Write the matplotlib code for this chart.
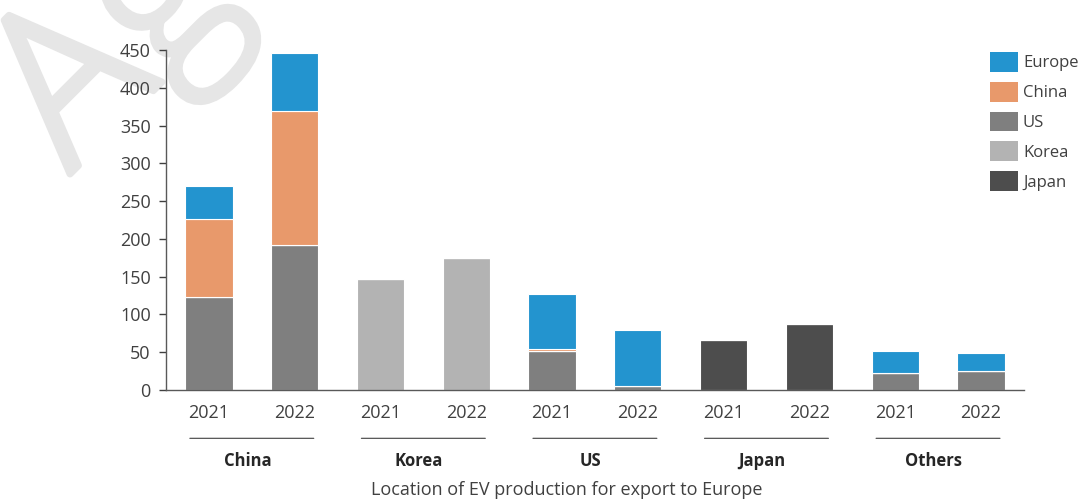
import matplotlib.pyplot as plt
import matplotlib.patheffects as pe
from matplotlib.patches import Patch
import numpy as np

plt.rcParams['font.family'] = ['Open Sans', 'DejaVu Sans']

groups = ['China', 'Korea', 'US', 'Japan', 'Others']
years = ['2021', '2022']

# stacked values per bar (China 2021, China 2022, Korea 2021, ...)
us = [123, 192, 0, 0, 51, 5, 0, 0, 22, 25]
korea = [0, 0, 147, 175, 0, 0, 0, 0, 0, 0]
japan = [0, 0, 0, 0, 0, 0, 66, 87, 0, 0]
china = [103, 177, 0, 0, 3, 0, 0, 0, 0, 0]
europe = [44, 77, 0, 0, 73, 74, 0, 0, 30, 24]

series = [('US', us, '#7f7f7f'),
          ('Korea', korea, '#b3b3b3'),
          ('Japan', japan, '#4d4d4d'),
          ('China', china, '#e8996b'),
          ('Europe', europe, '#2394cf')]

fig = plt.figure(figsize=(10.88, 4.99), dpi=100)
ax = fig.add_axes([0.1526, 0.2184, 0.7884, 0.6814])

# watermark
wm = '#e6e6e6'
fig.text(70 / 1088, 1 - 174 / 499, 'Ag', fontsize=156, color=wm,
         fontweight='light', rotation=45, rotation_mode='anchor',
         ha='left', va='baseline', zorder=-1,
         path_effects=[pe.withStroke(linewidth=5, foreground=wm)])

x = np.arange(len(us))
bottom = np.zeros(len(us))
for name, vals, col in series:
    vals = np.array(vals, dtype=float)
    ax.bar(x, vals, 0.55, bottom=bottom, color=col, edgecolor='white',
           linewidth=0.8, zorder=2)
    bottom += vals

ax.set_xlim(-0.5, 9.5)
ax.set_ylim(0, 450)
ax.set_yticks(range(0, 451, 50))
ax.set_xticks(x)
ax.set_xticklabels(years * len(groups))
ax.tick_params(axis='x', length=0, pad=10, labelsize=13, colors='#404040')
ax.tick_params(axis='y', length=5, width=1, direction='out', pad=6,
               labelsize=13, colors='#404040')
for s in ['top', 'right']:
    ax.spines[s].set_visible(False)
for s in ['left', 'bottom']:
    ax.spines[s].set_color('#595959')
    ax.spines[s].set_linewidth(1)
ax.patch.set_alpha(0)

# group underlines and labels
for i, g in enumerate(groups):
    c = 2 * i + 0.5
    ax.annotate('', xy=(c - 0.755, -0.142), xytext=(c + 0.755, -0.142),
                xycoords=('data', 'axes fraction'),
                arrowprops=dict(arrowstyle='-', color='#404040', lw=0.8))
    ax.text(c - 0.05, -0.209, g, transform=ax.get_xaxis_transform(), ha='center',
            va='center', fontsize=12, fontweight='bold', color='#262626')

fig.text(567 / 1088, 1 - 490 / 499, 'Location of EV production for export to Europe',
         ha='center', va='center', fontsize=13, color='#404040')

handles = [Patch(facecolor=col, label=name) for name, _, col in series]
order = ['Europe', 'China', 'US', 'Korea', 'Japan']
handles = sorted(handles, key=lambda h: order.index(h.get_label()))
fig.legend(handles=handles, loc='upper left', bbox_to_anchor=(990 / 1088, 1 - 52 / 499),
           frameon=False, fontsize=12, handlelength=1.68, handleheight=1.45,
           handletextpad=0.3, labelspacing=0.6, borderpad=0, borderaxespad=0,
           labelcolor='#404040')

fig.savefig('out.png', dpi=100)
